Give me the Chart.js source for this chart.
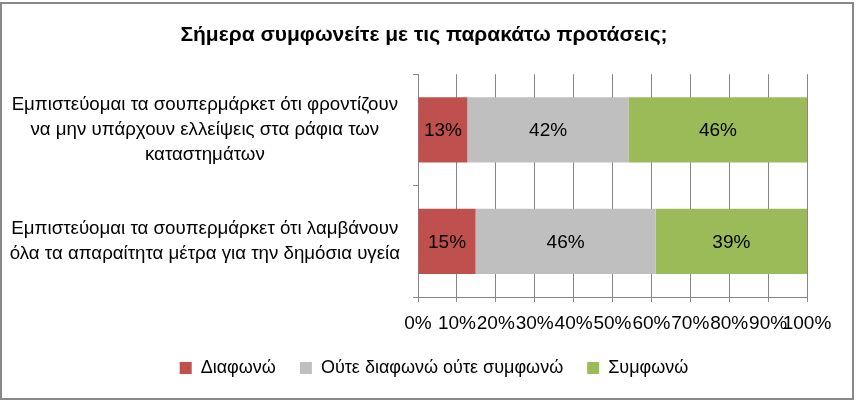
<!DOCTYPE html>
<html>
<head>
<meta charset="utf-8">
<script src="https://cdn.jsdelivr.net/npm/chart.js@4/dist/chart.umd.min.js"></script>
<style>
  html, body { margin: 0; padding: 0; background: #fff; }
  #frame { position: absolute; left: 0; top: 2px; width: 854px; height: 398px; box-sizing: border-box; border: 2px solid #888; }
  #wrap { position: absolute; left: 0; top: 0; width: 856px; height: 402px; }
</style>
</head>
<body>
<div id="frame"></div>
<div id="wrap"><canvas id="myChart"></canvas></div>
<script>
// chart data
const categories = [
  ["Εμπιστεύομαι τα σουπερμάρκετ ότι φροντίζουν", "να μην υπάρχουν ελλείψεις στα ράφια των", "καταστημάτων"],
  ["Εμπιστεύομαι τα σουπερμάρκετ ότι λαμβάνουν", "όλα τα απαραίτητα μέτρα για την δημόσια υγεία"]
];
const seriesNames = ["Διαφωνώ", "Ούτε διαφωνώ ούτε συμφωνώ", "Συμφωνώ"];
const disagree = [12.7, 14.8];
const neutral = [41.5, 46.3];
const agree = [45.8, 38.9];
const tickValues = [0, 10, 20, 30, 40, 50, 60, 70, 80, 90, 100];

const colors = ['#C0504D', '#BFBFBF', '#9BBB59'];
const font = "'Liberation Sans', Arial, sans-serif";
const gridColor = '#868686';

// simple value labels in the middle of each bar piece
const barLabels = {
  id: 'barLabels',
  afterDatasetsDraw(chart) {
    const ctx = chart.ctx;
    ctx.save();
    ctx.font = '19px ' + font;
    ctx.fillStyle = '#000';
    ctx.textAlign = 'center';
    ctx.textBaseline = 'middle';
    chart.data.datasets.forEach((ds, i) => {
      chart.getDatasetMeta(i).data.forEach((bar, j) => {
        const p = bar.getCenterPoint();
        ctx.fillText(Math.round(ds.data[j]) + '%', p.x, p.y + 1);
      });
    });
    ctx.restore();
  }
};

// nudge the legend a little to the right, like the original
const legendShift = {
  id: 'legendShift',
  afterLayout(chart) {
    if (chart.legend) chart.legend.left += 20;
  }
};

const data = {
  labels: categories,
  datasets: [disagree, neutral, agree].map((vals, i) => ({
    label: seriesNames[i],
    data: vals,
    backgroundColor: colors[i],
    borderWidth: 0,
    barPercentage: 0.585,
    categoryPercentage: 1
  }))
};

const config = {
  type: 'bar',
  data: data,
  plugins: [barLabels, legendShift],
  options: {
    indexAxis: 'y',
    responsive: false,
    animation: false,
    layout: { padding: { left: 4, right: 12, top: 0, bottom: 15 } },
    plugins: {
      tooltip: { enabled: false },
      title: {
        display: true,
        text: 'Σήμερα συμφωνείτε με τις παρακάτω προτάσεις;',
        color: '#000',
        font: { family: font, size: 21, weight: 'bold' },
        padding: { top: 23, bottom: 26 }
      },
      legend: {
        position: 'bottom',
        labels: {
          color: '#000',
          font: { family: font, size: 18 },
          boxWidth: 12,
          boxHeight: 12,
          padding: 24
        }
      }
    },
    scales: {
      x: {
        stacked: true,
        min: 0,
        max: 100,
        afterBuildTicks(scale) {
          scale.ticks = tickValues.map(v => ({ value: v }));
        },
        afterFit(scale) {
          scale.height = 38;
          scale.paddingRight = 49;
        },
        ticks: {
          color: '#000',
          font: { family: font, size: 19 },
          autoSkip: false,
          maxRotation: 0,
          minRotation: 0,
          padding: 10,
          callback: v => v + '%'
        },
        grid: { color: gridColor, tickLength: 5, lineWidth: 1 },
        border: { color: gridColor }
      },
      y: {
        stacked: true,
        afterFit(scale) {
          scale.width = 414;
          scale.paddingTop = 0;
          scale.paddingBottom = 0;
        },
        ticks: {
          color: '#000',
          font: { family: font, size: 18.7, lineHeight: 1.32 },
          crossAlign: 'center',
          padding: 13
        },
        grid: { color: gridColor, drawOnChartArea: false, tickLength: 5, offset: true },
        border: { color: gridColor }
      }
    }
  }
};

const canvas = document.getElementById('myChart');
canvas.width = 856;
canvas.height = 402;
canvas.style.width = '856px';
canvas.style.height = '402px';
const myChart = new Chart(canvas, config);
</script>
</body>
</html>
